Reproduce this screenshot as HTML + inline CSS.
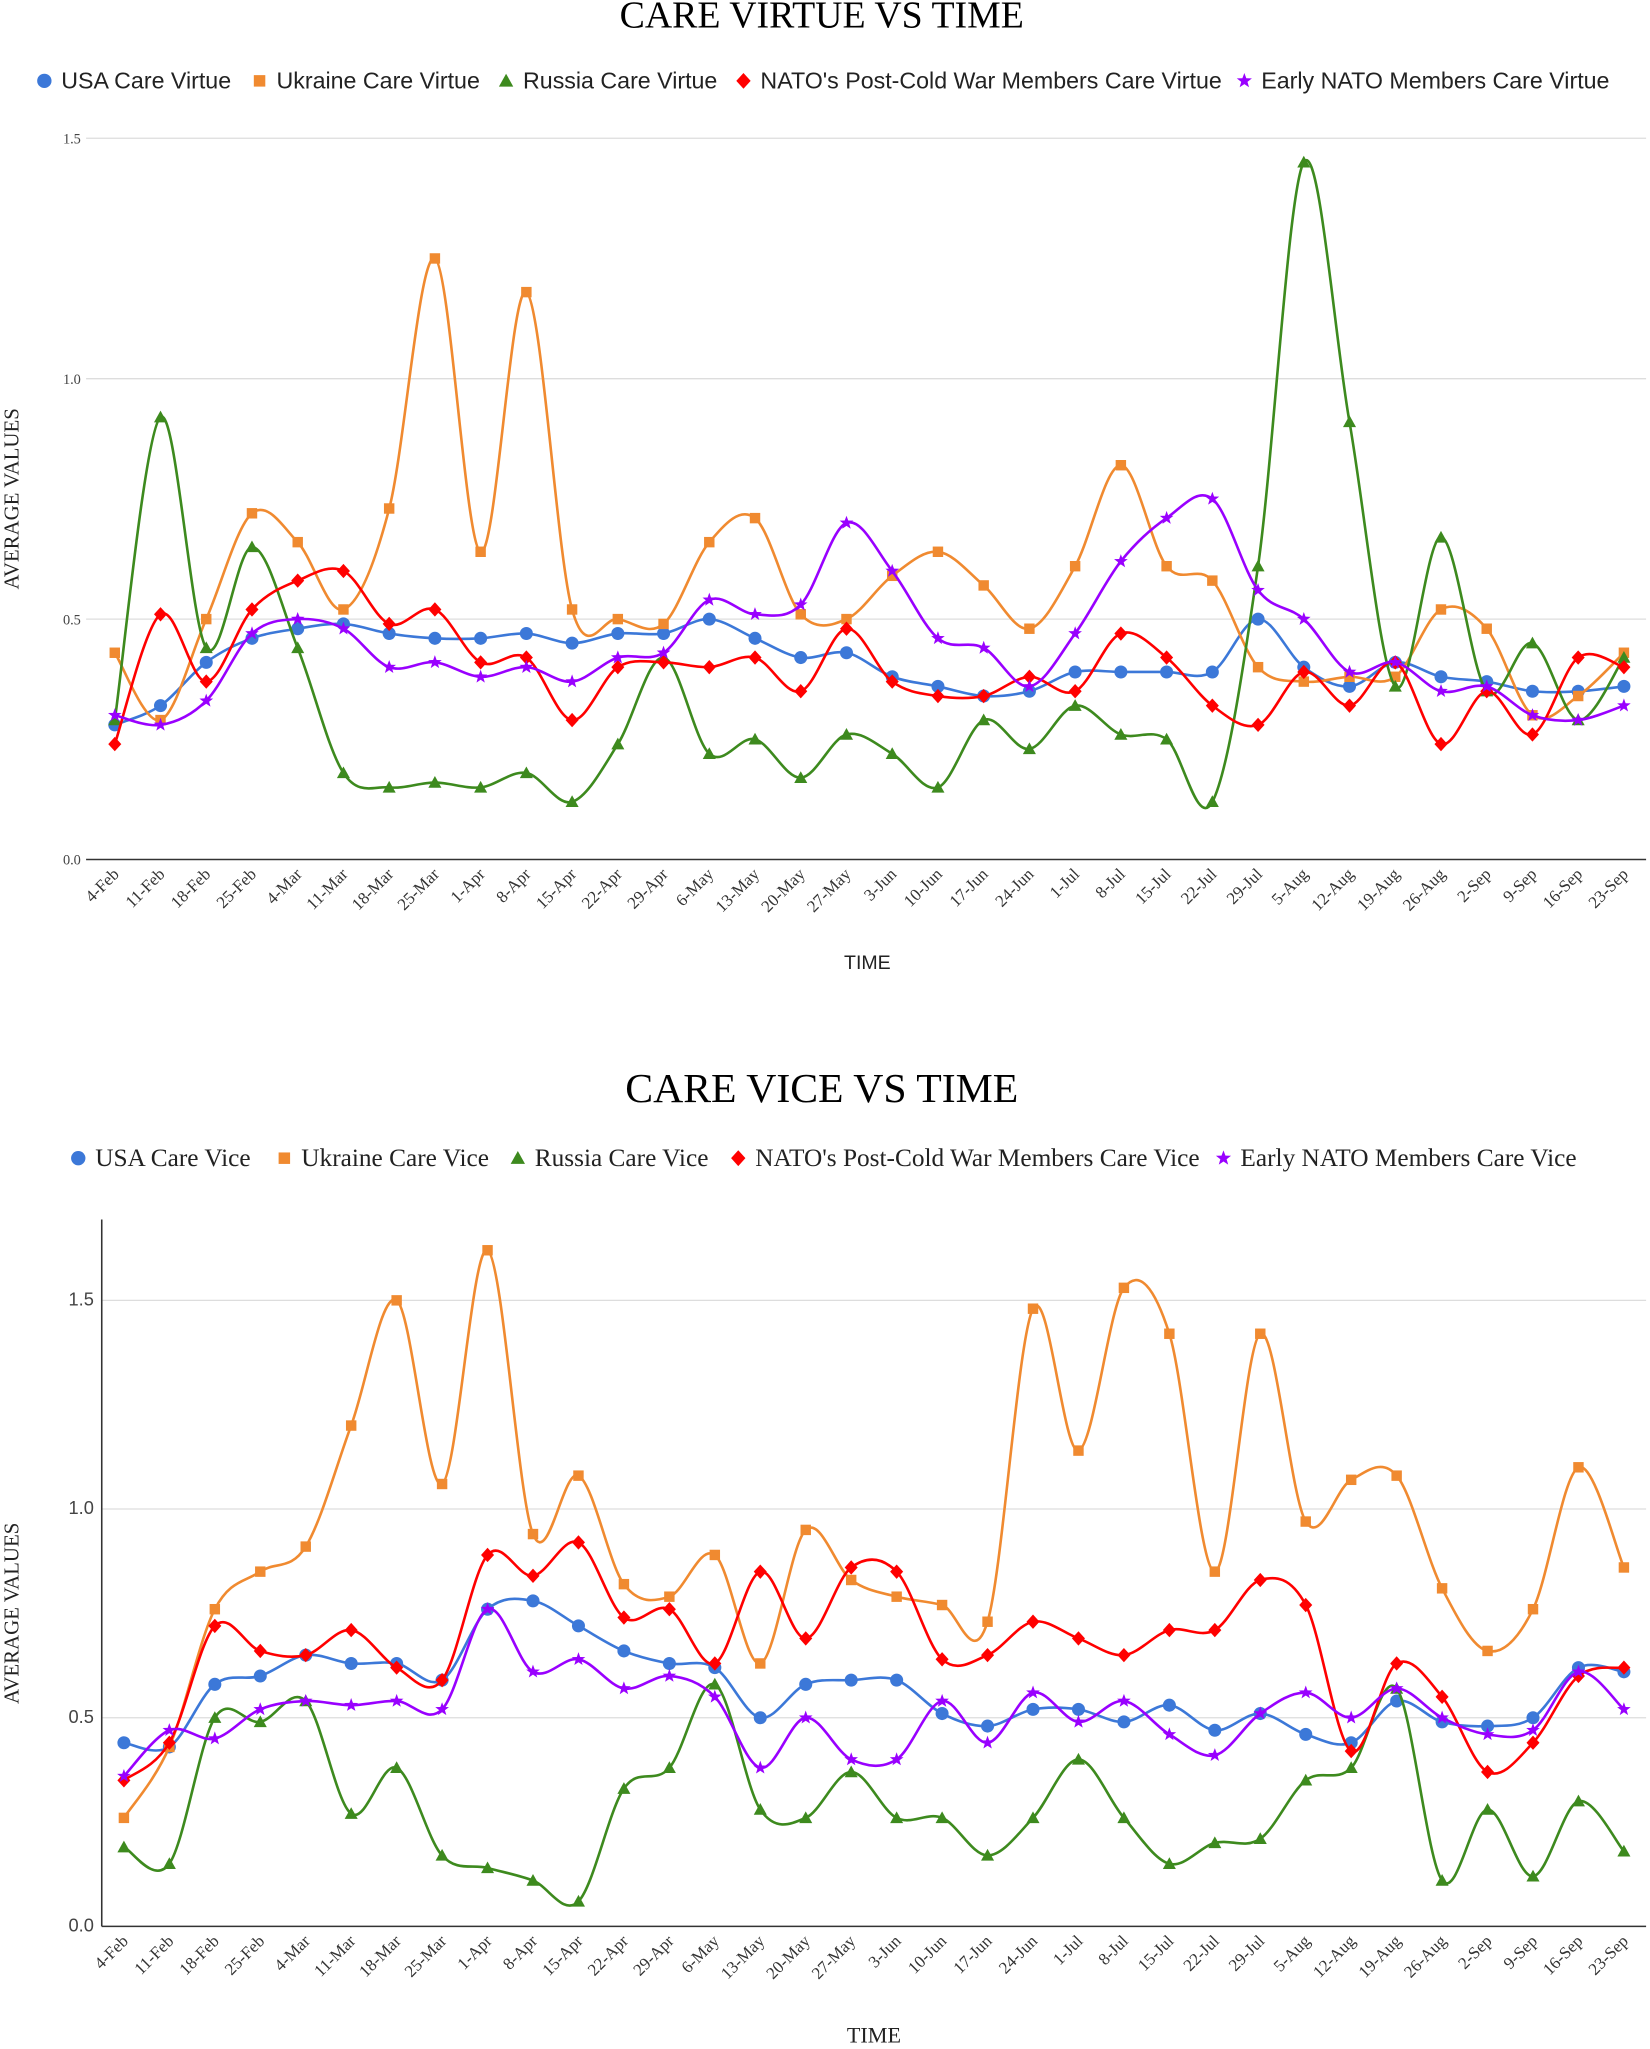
<!DOCTYPE html>
<html><head><meta charset="utf-8">
<style>
html,body{margin:0;padding:0;background:#fff;}
svg{display:block;}
.serif{font-family:"Liberation Serif",serif;}
.sans{font-family:"Liberation Sans",sans-serif;}
</style></head>
<body>
<svg id="chart" width="1650" height="2049" viewBox="0 0 1265 1571" preserveAspectRatio="none" xmlns="http://www.w3.org/2000/svg"></svg>
<script>
const categories=["4-Feb","11-Feb","18-Feb","25-Feb","4-Mar","11-Mar","18-Mar","25-Mar","1-Apr","8-Apr","15-Apr","22-Apr","29-Apr","6-May","13-May","20-May","27-May","3-Jun","10-Jun","17-Jun","24-Jun","1-Jul","8-Jul","15-Jul","22-Jul","29-Jul","5-Aug","12-Aug","19-Aug","26-Aug","2-Sep","9-Sep","16-Sep","23-Sep"];
const yTicks=[0,0.5,1.0,1.5];
const yTickLabels=["0.0","0.5","1.0","1.5"];
const virtueUSA=[0.28,0.32,0.41,0.46,0.48,0.49,0.47,0.46,0.46,0.47,0.45,0.47,0.47,0.50,0.46,0.42,0.43,0.38,0.36,0.34,0.35,0.39,0.39,0.39,0.39,0.50,0.40,0.36,0.41,0.38,0.37,0.35,0.35,0.36];
const virtueUkraine=[0.43,0.29,0.50,0.72,0.66,0.52,0.73,1.25,0.64,1.18,0.52,0.50,0.49,0.66,0.71,0.51,0.50,0.59,0.64,0.57,0.48,0.61,0.82,0.61,0.58,0.40,0.37,0.38,0.38,0.52,0.48,0.30,0.34,0.43];
const virtueRussia=[0.29,0.92,0.44,0.65,0.44,0.18,0.15,0.16,0.15,0.18,0.12,0.24,0.42,0.22,0.25,0.17,0.26,0.22,0.15,0.29,0.23,0.32,0.26,0.25,0.12,0.61,1.45,0.91,0.36,0.67,0.35,0.45,0.29,0.42];
const virtueNatoPost=[0.24,0.51,0.37,0.52,0.58,0.60,0.49,0.52,0.41,0.42,0.29,0.40,0.41,0.40,0.42,0.35,0.48,0.37,0.34,0.34,0.38,0.35,0.47,0.42,0.32,0.28,0.39,0.32,0.41,0.24,0.35,0.26,0.42,0.40];
const virtueNatoEarly=[0.30,0.28,0.33,0.47,0.50,0.48,0.40,0.41,0.38,0.40,0.37,0.42,0.43,0.54,0.51,0.53,0.70,0.60,0.46,0.44,0.36,0.47,0.62,0.71,0.75,0.56,0.50,0.39,0.41,0.35,0.36,0.30,0.29,0.32];
const viceUSA=[0.44,0.43,0.58,0.60,0.65,0.63,0.63,0.59,0.76,0.78,0.72,0.66,0.63,0.62,0.50,0.58,0.59,0.59,0.51,0.48,0.52,0.52,0.49,0.53,0.47,0.51,0.46,0.44,0.54,0.49,0.48,0.50,0.62,0.61];
const viceUkraine=[0.26,0.43,0.76,0.85,0.91,1.20,1.50,1.06,1.62,0.94,1.08,0.82,0.79,0.89,0.63,0.95,0.83,0.79,0.77,0.73,1.48,1.14,1.53,1.42,0.85,1.42,0.97,1.07,1.08,0.81,0.66,0.76,1.10,0.86];
const viceRussia=[0.19,0.15,0.50,0.49,0.54,0.27,0.38,0.17,0.14,0.11,0.06,0.33,0.38,0.58,0.28,0.26,0.37,0.26,0.26,0.17,0.26,0.40,0.26,0.15,0.20,0.21,0.35,0.38,0.57,0.11,0.28,0.12,0.30,0.18];
const viceNatoPost=[0.35,0.44,0.72,0.66,0.65,0.71,0.62,0.59,0.89,0.84,0.92,0.74,0.76,0.63,0.85,0.69,0.86,0.85,0.64,0.65,0.73,0.69,0.65,0.71,0.71,0.83,0.77,0.42,0.63,0.55,0.37,0.44,0.60,0.62];
const viceNatoEarly=[0.36,0.47,0.45,0.52,0.54,0.53,0.54,0.52,0.76,0.61,0.64,0.57,0.60,0.55,0.38,0.50,0.40,0.40,0.54,0.44,0.56,0.49,0.54,0.46,0.41,0.51,0.56,0.50,0.57,0.50,0.46,0.47,0.61,0.52];

const NS="http://www.w3.org/2000/svg";
const svg=document.getElementById('chart');
function mk(tag,attrs,parent){const e=document.createElementNS(NS,tag);for(const k in attrs)e.setAttribute(k,attrs[k]);(parent||svg).appendChild(e);return e;}
function txt(s,attrs,parent){const e=mk('text',attrs,parent);e.textContent=s;return e;}
const colors=["#3c78d8","#f08a30","#3d8a1e","#ff0000","#9900ff"];
const shapes=["circle","square","triangle","diamond","star"];
function marker(g,shape,x,y,c,s){
  if(shape==="circle")return mk('circle',{cx:x,cy:y,r:s,fill:c},g);
  if(shape==="square")return mk('rect',{x:x-s*0.8,y:y-s*0.8,width:s*1.6,height:s*1.6,fill:c},g);
  if(shape==="triangle")return mk('polygon',{points:`${x},${y-s} ${x+s},${y+s*0.8} ${x-s},${y+s*0.8}`,fill:c},g);
  if(shape==="diamond")return mk('polygon',{points:`${x},${y-s*1.1} ${x+s},${y} ${x},${y+s*1.1} ${x-s},${y}`,fill:c},g);
  let p=[];for(let i=0;i<10;i++){const r=i%2?s*0.45:s*1.1;const a=-Math.PI/2+i*Math.PI/5;p.push((x+r*Math.cos(a)).toFixed(1)+","+(y+r*Math.sin(a)).toFixed(1));}
  return mk('polygon',{points:p.join(" "),fill:c},g);
}
function smooth(pts){
  let d=`M${pts[0][0]},${pts[0][1]}`;
  for(let i=0;i<pts.length-1;i++){
    const p0=pts[Math.max(0,i-1)],p1=pts[i],p2=pts[i+1],p3=pts[Math.min(pts.length-1,i+2)];
    const c1x=p1[0]+(p2[0]-p0[0])/6,c1y=p1[1]+(p2[1]-p0[1])/6;
    const c2x=p2[0]-(p3[0]-p1[0])/6,c2y=p2[1]-(p3[1]-p1[1])/6;
    d+=` C${c1x.toFixed(1)},${c1y.toFixed(1)} ${c2x.toFixed(1)},${c2y.toFixed(1)} ${p2[0].toFixed(1)},${p2[1].toFixed(1)}`;
  }
  return d;
}
function chart(cfg){
  const g=mk('g',{});
  
  
  const xS=i=>cfg.x0+i*(cfg.x1-cfg.x0)/(categories.length-1);
  const yS=v=>cfg.y0-v*(cfg.y0-cfg.yTop)/1.5;
  const t=txt(cfg.title,{x:cfg.titleX,y:cfg.titleY,'text-anchor':'middle','font-size':cfg.titleFont,class:'serif',fill:'#000'},g);
  
  cfg.legend.forEach((l,i)=>{
    const lg=mk('g',{},g);
    
    
    marker(lg,shapes[i],l[0],cfg.legY-6,colors[i],5.5);
    txt(l[1],{x:l[0]+13,y:cfg.legY,'font-size':cfg.legFont,class:cfg.legClass,fill:'#222'},lg);
  });
  yTicks.forEach((v,i)=>{
    const gl=mk('line',{x1:cfg.gridX,x2:1262,y1:yS(v),y2:yS(v),stroke:i===0?'#333':'#ddd','stroke-width':i===0?1.2:1},g);
    
    const tl=txt(yTickLabels[i],{x:cfg.tickX,y:yS(v)+4,'text-anchor':'end','font-size':cfg.tickFont,class:cfg.tickClass,fill:'#444'},g);
    
  });
  if(cfg.axisLine){const al=mk('line',{x1:cfg.gridX,x2:cfg.gridX,y1:cfg.axisTop,y2:cfg.y0,stroke:'#333','stroke-width':1.2},g);}
  categories.forEach((c,i)=>{
    const x=xS(i)+4,y=cfg.y0+12;
    const tl=txt(c,{x:x,y:y,'text-anchor':'end','font-size':13,class:'serif',fill:'#333',transform:`rotate(-45 ${x} ${y})`},g);
    
  });
  const yt=txt('AVERAGE VALUES',{x:14,y:(cfg.y0+cfg.yTop)/2,'text-anchor':'middle','font-size':16,class:'serif',fill:'#222',transform:`rotate(-90 14 ${(cfg.y0+cfg.yTop)/2})`},g);
  
  const xt=txt('TIME',{x:cfg.timeX,y:cfg.timeY,'text-anchor':'middle','font-size':cfg.timeFont,class:cfg.timeClass,fill:'#222'},g);
  
  cfg.series.forEach((s,si)=>{
    const sg=mk('g',{},g);
    
    
    const pts=s.map((v,i)=>[xS(i),yS(v)]);
    mk('path',{d:smooth(pts),fill:'none',stroke:colors[si],'stroke-width':2},sg);
    pts.forEach(p=>{const m=marker(sg,shapes[si],p[0],p[1],colors[si],5);});
  });
}
chart({name:'care-virtue-chart',title:'CARE VIRTUE VS TIME',titleX:630,titleY:21,titleFont:29,legY:68,legFont:17.8,legClass:'sans',
  legend:[[34,'USA Care Virtue'],[199,'Ukraine Care Virtue'],[388,'Russia Care Virtue'],[570,"NATO's Post-Cold War Members Care Virtue"],[954,'Early NATO Members Care Virtue']],
  x0:88,x1:1245,y0:659,yTop:106,gridX:66,tickX:62,tickFont:11,tickClass:'serif',axisLine:false,
  timeX:665,timeY:743,timeFont:15,timeClass:'sans',keys:['usa','ukraine','russia','nato-post','nato-early'],
  series:[virtueUSA,virtueUkraine,virtueRussia,virtueNatoPost,virtueNatoEarly]});
chart({name:'care-vice-chart',title:'CARE VICE VS TIME',titleX:630,titleY:845,titleFont:32,legY:894,legFont:19.4,legClass:'serif',
  legend:[[60,'USA Care Vice'],[218,'Ukraine Care Vice'],[397,'Russia Care Vice'],[566,"NATO's Post-Cold War Members Care Vice"],[938,'Early NATO Members Care Vice']],
  x0:95,x1:1245,y0:1477,yTop:997,gridX:78,tickX:72,tickFont:14,tickClass:'sans',axisLine:true,axisTop:935,
  timeX:670,timeY:1566,timeFont:17,timeClass:'serif',keys:['usa','ukraine','russia','nato-post','nato-early'],
  series:[viceUSA,viceUkraine,viceRussia,viceNatoPost,viceNatoEarly]});
</script>
</body></html>
